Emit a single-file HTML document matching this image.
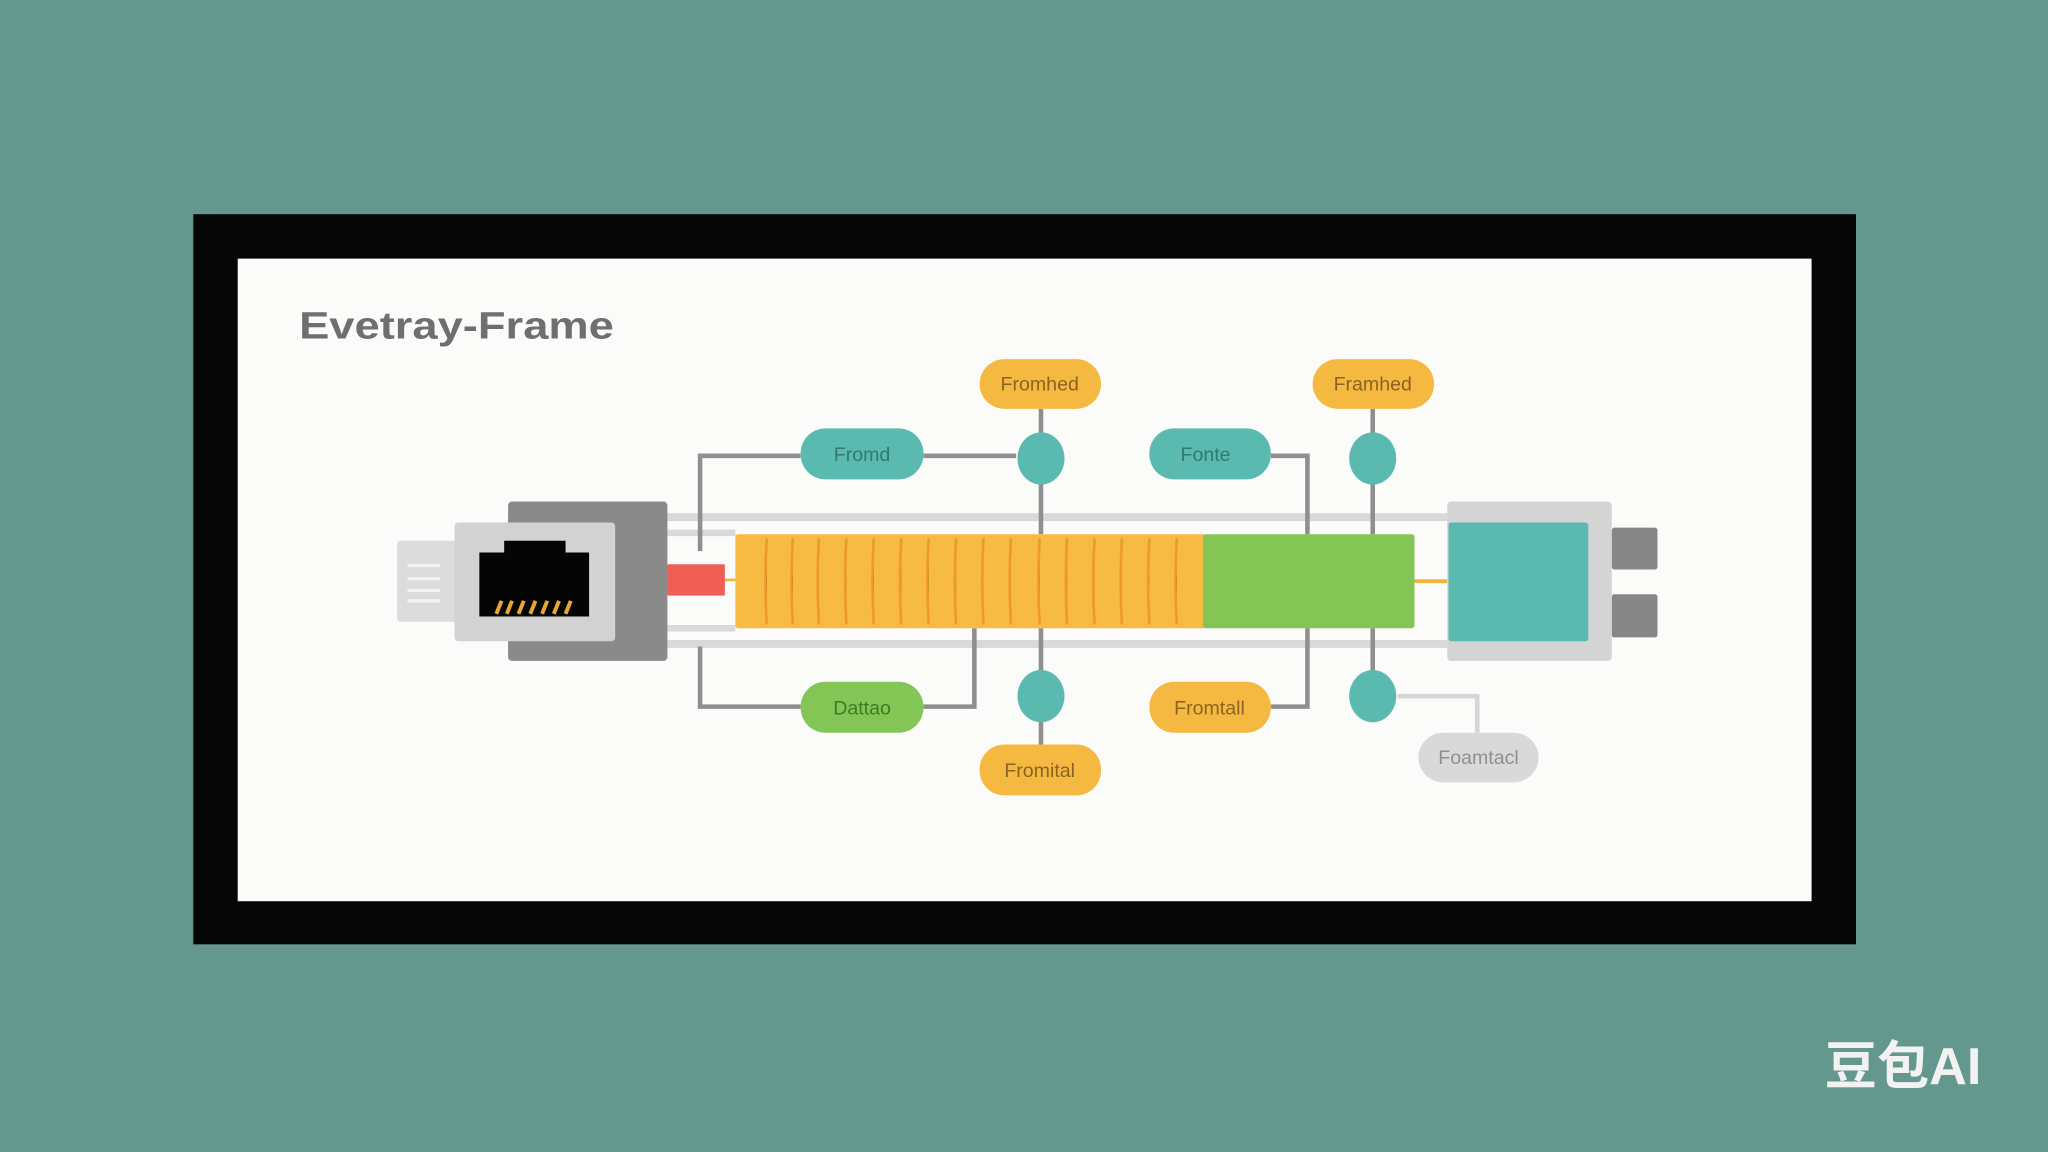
<!DOCTYPE html>
<html><head><meta charset="utf-8"><style>
html,body{margin:0;padding:0;width:2048px;height:1152px;overflow:hidden;background:#64988e}
svg{display:block}
text{font-family:"Liberation Sans",sans-serif}
</style></head><body>
<svg width="2048" height="1152" viewBox="0 0 1568 882" xmlns="http://www.w3.org/2000/svg">
<rect width="1568" height="882" fill="#64988e"/>
<rect x="148" y="164" width="1273" height="559" fill="#060606"/>
<rect x="182" y="198" width="1205" height="492" fill="#fbfbf9"/>
<text x="229" y="259" font-size="29" font-weight="bold" fill="#6f6f6f" textLength="241" lengthAdjust="spacingAndGlyphs">Evetray-Frame</text>

<!-- rails -->
<g stroke="#d9d9d9" stroke-width="6">
<line x1="511" y1="396" x2="1108" y2="396"/>
<line x1="511" y1="493" x2="1108" y2="493"/>
<line x1="511" y1="408" x2="563" y2="408" stroke-width="5"/>
<line x1="511" y1="481" x2="563" y2="481" stroke-width="5"/>
</g>

<!-- connectors gray lines -->
<g stroke="#8f8f8f" stroke-width="3.5" fill="none">
<polyline points="536,422 536,349 613,349"/>
<line x1="707" y1="349" x2="778" y2="349"/>
<polyline points="536,495 536,541 613,541"/>
<polyline points="707,541 746,541 746,481"/>
<line x1="797" y1="313" x2="797" y2="409"/>
<line x1="797" y1="481" x2="797" y2="570"/>
<line x1="1051" y1="313" x2="1051" y2="409"/>
<line x1="1051" y1="481" x2="1051" y2="533"/>
<polyline points="973,349 1001,349 1001,409"/>
<polyline points="973,541 1001,541 1001,481"/>
</g>
<polyline points="1070,533 1131,533 1131,561" stroke="#d6d6d6" stroke-width="3.5" fill="none"/>

<!-- left connector -->
<rect x="389" y="384" width="122" height="122" rx="3" fill="#8a8a8a"/>
<rect x="304" y="414" width="46" height="62" rx="3" fill="#dcdcdc"/>
<g stroke="#f2f2f2" stroke-width="2.5"><line x1="312" y1="433" x2="337" y2="433"/><line x1="312" y1="443" x2="337" y2="443"/><line x1="312" y1="452" x2="337" y2="452"/><line x1="312" y1="460" x2="337" y2="460"/></g>
<rect x="348" y="400" width="123" height="91" rx="3" fill="#d2d2d2"/>
<path d="M367,423 H386 V414 H433 V423 H451 V472 H367 Z" fill="#050505"/>
<g stroke="#e9a632" stroke-width="3"><line x1="380" y1="470" x2="384" y2="460"/><line x1="388" y1="470" x2="392" y2="460"/><line x1="397" y1="470" x2="401" y2="460"/><line x1="406" y1="470" x2="410" y2="460"/><line x1="415" y1="470" x2="419" y2="460"/><line x1="424" y1="470" x2="428" y2="460"/><line x1="433" y1="470" x2="437" y2="460"/></g>
<rect x="511" y="432" width="44" height="24" rx="1" fill="#ef5f55"/>
<line x1="555" y1="444" x2="563" y2="444" stroke="#f2b53a" stroke-width="2"/>

<!-- cable -->
<rect x="563" y="409" width="360" height="72" rx="2" fill="#f7bb44"/>
<g stroke="#ee9a2a" stroke-width="2">
<path d="M587,412 q-2,33 0,66 M607,412 q-2,33 0,66 M627,412 q-2,33 0,66 M648,412 q-2,33 0,66 M669,412 q-2,33 0,66 M690,412 q-2,33 0,66 M711,412 q-2,33 0,66 M732,412 q-2,33 0,66 M753,412 q-2,33 0,66 M774,412 q-2,33 0,66 M796,412 q-2,33 0,66 M817,412 q-2,33 0,66 M838,412 q-2,33 0,66 M859,412 q-2,33 0,66 M880,412 q-2,33 0,66 M901,412 q-2,33 0,66"/>
</g>
<rect x="921" y="409" width="162" height="72" rx="2" fill="#84c655"/>
<line x1="1083" y1="445" x2="1108" y2="445" stroke="#f4b43c" stroke-width="3"/>

<!-- right connector -->
<rect x="1234" y="404" width="35" height="32" rx="2" fill="#868686"/>
<rect x="1234" y="455" width="35" height="33" rx="2" fill="#868686"/>
<rect x="1108" y="384" width="126" height="122" rx="3" fill="#d4d4d4"/>
<rect x="1109" y="400" width="107" height="91" rx="2" fill="#5bbab0"/>

<!-- circles -->
<g fill="#5bbab0">
<ellipse cx="797" cy="351" rx="18" ry="20"/>
<ellipse cx="1051" cy="351" rx="18" ry="20"/>
<ellipse cx="797" cy="533" rx="18" ry="20"/>
<ellipse cx="1051" cy="533" rx="18" ry="20"/>
</g>

<!-- pills -->
<g font-size="15" text-anchor="middle">
<rect x="750" y="275" width="93" height="38" rx="19" fill="#f5b941"/><text x="796" y="299" fill="#8a6420">Fromhed</text>
<rect x="1005" y="275" width="93" height="38" rx="19" fill="#f5b941"/><text x="1051" y="299" fill="#8a6420">Framhed</text>
<rect x="613" y="328" width="94" height="39" rx="19" fill="#5bbab0"/><text x="660" y="353" fill="#2f7a72">Fromd</text>
<rect x="880" y="328" width="93" height="39" rx="19" fill="#5bbab0"/><text x="923" y="353" fill="#2f7a72">Fonte</text>
<rect x="613" y="522" width="94" height="39" rx="19" fill="#84c655"/><text x="660" y="547" fill="#3f7a26">Dattao</text>
<rect x="880" y="522" width="93" height="39" rx="19" fill="#f5b941"/><text x="926" y="547" fill="#8a6420">Fromtall</text>
<rect x="750" y="570" width="93" height="39" rx="19" fill="#f5b941"/><text x="796" y="595" fill="#8a6420">Fromital</text>
<rect x="1086" y="561" width="92" height="38" rx="19" fill="#d9d9d9"/><text x="1132" y="585" fill="#8f8f8f">Foamtacl</text>
</g>

<text x="1397" y="830" font-size="40" font-weight="bold" fill="#f2f2f2" style="font-family:'Liberation Sans','Noto Sans CJK KR',sans-serif">豆包AI</text>
</svg>
</body></html>
